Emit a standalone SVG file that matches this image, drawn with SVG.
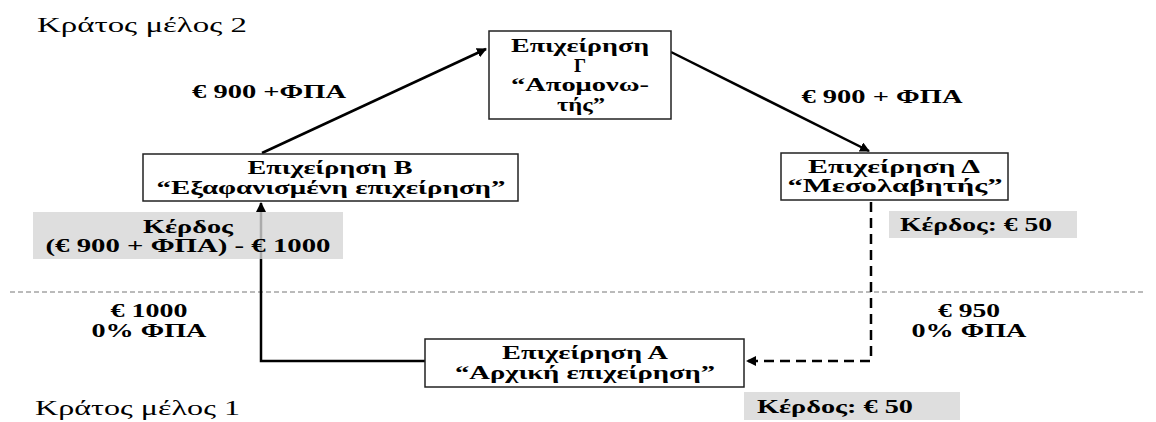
<svg xmlns="http://www.w3.org/2000/svg" width="1156" height="422" viewBox="0 0 1156 422">
<style>
.box{fill:#fff;stroke:#222;stroke-width:1.5}
.gray{fill:#d6d6d6;fill-opacity:0.8}
.b{font-family:"Liberation Serif","DejaVu Serif",serif;font-weight:bold;font-size:19px;fill:#000;text-anchor:middle}
.r{font-family:"Liberation Serif","DejaVu Serif",serif;font-size:20px;fill:#000}
.con{fill:none;stroke:#000;stroke-width:2.5}
</style>
<defs>
<marker id="ah" viewBox="0 0 10 10" refX="9" refY="5" markerWidth="4" markerHeight="4" orient="auto" markerUnits="strokeWidth">
<path d="M0,0 L10,5 L0,10 z" fill="#000"/>
</marker>
</defs>
<line x1="10" y1="292" x2="1146" y2="292" stroke="#777" stroke-width="1" stroke-dasharray="5,3"/>
<text class="r" x="37" y="32" textLength="210" lengthAdjust="spacingAndGlyphs">Κράτος μέλος 2</text>
<text class="r" x="35" y="415" textLength="205" lengthAdjust="spacingAndGlyphs">Κράτος μέλος 1</text>
<g id="connectors">
<line class="con" x1="262" y1="153" x2="486" y2="49" marker-end="url(#ah)" stroke-width="2"/>
<line class="con" x1="671" y1="52" x2="869" y2="151" marker-end="url(#ah)" stroke-width="2"/>
<polyline class="con" points="425,361 261,361 261,203" marker-end="url(#ah)"/>
<polyline class="con" points="871,202 871,361 747,361" stroke-dasharray="10,6" marker-end="url(#ah)"/>
</g>
<g id="labels">
<text class="b" x="269" y="98" textLength="154" lengthAdjust="spacingAndGlyphs">€ 900 +ΦΠΑ</text>
<text class="b" x="882" y="103" textLength="161" lengthAdjust="spacingAndGlyphs">€ 900 + ΦΠΑ</text>
<text class="b" x="149" y="317" textLength="77" lengthAdjust="spacingAndGlyphs">€ 1000</text>
<text class="b" x="149" y="337" textLength="115" lengthAdjust="spacingAndGlyphs">0% ΦΠΑ</text>
<text class="b" x="969" y="317" textLength="62" lengthAdjust="spacingAndGlyphs">€ 950</text>
<text class="b" x="969" y="337" textLength="115" lengthAdjust="spacingAndGlyphs">0% ΦΠΑ</text>
</g>
<g id="nodeG">
<rect class="box" x="489" y="31" width="182" height="88"/>
<text class="b" x="580" y="52" textLength="138" lengthAdjust="spacingAndGlyphs">Επιχείρηση</text>
<text class="b" x="580" y="72">Γ</text>
<text class="b" x="580" y="91" textLength="138" lengthAdjust="spacingAndGlyphs">“Απομονω-</text>
<text class="b" x="581" y="111" textLength="48" lengthAdjust="spacingAndGlyphs">τής”</text>
</g>
<g id="nodeB">
<rect class="box" x="143" y="154" width="375" height="47"/>
<text class="b" x="330" y="174" textLength="165" lengthAdjust="spacingAndGlyphs">Επιχείρηση Β</text>
<text class="b" x="331" y="194" textLength="349" lengthAdjust="spacingAndGlyphs">“Εξαφανισμένη επιχείρηση”</text>
</g>
<g id="nodeD">
<rect class="box" x="781" y="153" width="227" height="47"/>
<text class="b" x="894" y="173" textLength="172" lengthAdjust="spacingAndGlyphs">Επιχείρηση Δ</text>
<text class="b" x="895" y="192" textLength="215" lengthAdjust="spacingAndGlyphs">“Μεσολαβητής”</text>
</g>
<g id="nodeA">
<rect class="box" x="425" y="339" width="319" height="48"/>
<text class="b" x="585" y="359" textLength="166" lengthAdjust="spacingAndGlyphs">Επιχείρηση Α</text>
<text class="b" x="585" y="379" textLength="260" lengthAdjust="spacingAndGlyphs">“Αρχική επιχείρηση”</text>
</g>
<g id="profitB">
<rect class="gray" x="33" y="212" width="310" height="47"/>
<text class="b" x="188" y="233" textLength="90" lengthAdjust="spacingAndGlyphs">Κέρδος</text>
<text class="b" x="188" y="252" textLength="285" lengthAdjust="spacingAndGlyphs">(€ 900 + ΦΠΑ) - € 1000</text>
</g>
<g id="profitD">
<rect class="gray" x="889" y="211" width="188" height="27"/>
<text class="b" x="976" y="231" textLength="152" lengthAdjust="spacingAndGlyphs">Κέρδος: € 50</text>
</g>
<g id="profitA">
<rect class="gray" x="744" y="392" width="216" height="28"/>
<text class="b" x="835" y="413" textLength="156" lengthAdjust="spacingAndGlyphs">Κέρδος: € 50</text>
</g>
</svg>
